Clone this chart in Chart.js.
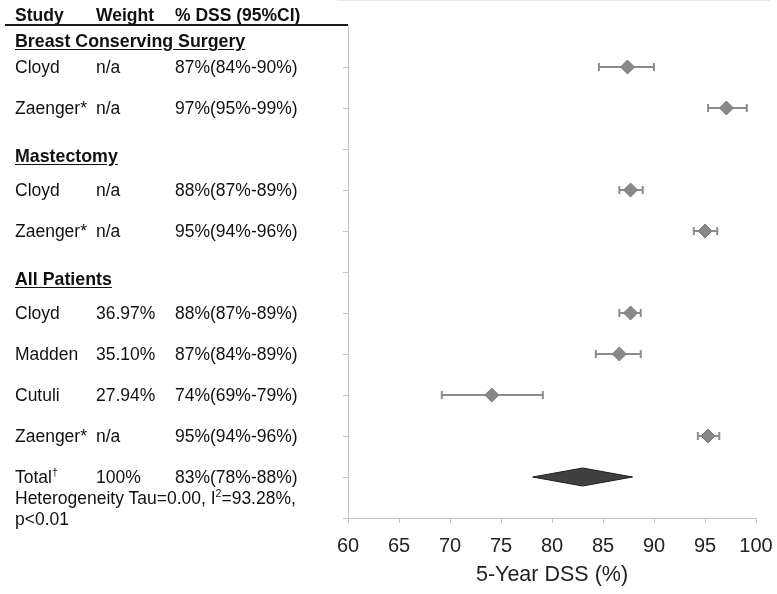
<!DOCTYPE html>
<html>
<head>
<meta charset="utf-8">
<script src="https://cdn.jsdelivr.net/npm/chart.js@4.4.1/dist/chart.umd.min.js"></script>
<style>
body { margin: 0; background: #fff; }
#wrap { position: relative; width: 777px; height: 594px; font-family: "Liberation Sans", Arial, sans-serif; color: #111; overflow: hidden; }
#wrap canvas { position: absolute; left: 0; top: 0; }
.cell { position: absolute; font-size: 17.5px; line-height: 20px; white-space: nowrap; transform: translateY(-50%); }
.head { font-weight: bold; font-size: 17.5px; }
.sec { font-weight: bold; font-size: 17.8px; text-decoration: underline; text-underline-offset: 2px; }
.cell sup { font-size: 10.5px; vertical-align: 7px; line-height: 0; }
#rule { position: absolute; left: 5px; top: 24px; width: 343px; height: 2px; background: #1a1a1a; }
#topedge { position: absolute; left: 337px; top: 0; width: 433px; height: 1px; background: #e6e6e6; }
</style>
</head>
<body>
<div id="wrap">
  <canvas id="forest" width="777" height="594"></canvas>
  <div id="topedge"></div>
  <div id="rule"></div>
  <div id="table"></div>
</div>
<script>
// rows on the y scale (0 = top, 12 = x axis)
const rowIdx = [1, 2, 4, 5, 7, 8, 9, 10];
const studies = ['Cloyd', 'Zaenger*', 'Cloyd', 'Zaenger*', 'Cloyd', 'Madden', 'Cutuli', 'Zaenger*'];
const weights = ['n/a', 'n/a', 'n/a', 'n/a', '36.97%', '35.10%', '27.94%', 'n/a'];
const dssLabels = ['87%(84%-90%)', '97%(95%-99%)', '88%(87%-89%)', '95%(94%-96%)',
                   '88%(87%-89%)', '87%(84%-89%)', '74%(69%-79%)', '95%(94%-96%)'];
const estimates = [87.4, 97.1, 87.7, 95.0, 87.7, 86.6, 74.1, 95.3];
const lowerCI   = [84.6, 95.3, 86.6, 93.9, 86.6, 84.3, 69.2, 94.3];
const upperCI   = [90.0, 99.1, 88.9, 96.2, 88.7, 88.7, 79.1, 96.4];

const sections = ['Breast Conserving Surgery', 'Mastectomy', 'All Patients'];
const sectionIdx = [0, 3, 6];

const totalRow = 11;
const totalCI = [78.1, 83.0, 87.9]; // lower, estimate, upper
const totalWeight = '100%';
const totalLabel = '83%(78%-88%)';

const xTicks = [60, 65, 70, 75, 80, 85, 90, 95, 100];

const FONT = '"Liberation Sans", Arial, sans-serif';

// whiskers and the pooled diamond, drawn through the chart scales
const ciPlugin = {
    id: 'ci',
    beforeDatasetsDraw(chart) {
        const { ctx, scales: { x, y } } = chart;
        ctx.save();
        ctx.strokeStyle = '#8c8c8c';
        ctx.lineWidth = 2;
        rowIdx.forEach((r, i) => {
            const py = y.getPixelForValue(r);
            const x0 = x.getPixelForValue(lowerCI[i]);
            const x1 = x.getPixelForValue(upperCI[i]);
            ctx.beginPath();
            ctx.moveTo(x0, py); ctx.lineTo(x1, py);
            ctx.moveTo(x0, py - 4); ctx.lineTo(x0, py + 4);
            ctx.moveTo(x1, py - 4); ctx.lineTo(x1, py + 4);
            ctx.stroke();
        });

        const ty = y.getPixelForValue(totalRow);
        const [lo, est, hi] = totalCI.map(v => x.getPixelForValue(v));
        ctx.beginPath();
        ctx.moveTo(lo, ty);
        ctx.lineTo(est, ty - 9);
        ctx.lineTo(hi, ty);
        ctx.lineTo(est, ty + 9);
        ctx.closePath();
        ctx.fillStyle = '#404040';
        ctx.fill();
        ctx.strokeStyle = '#1e1e1e';
        ctx.lineWidth = 1;
        ctx.stroke();
        ctx.restore();
    }
};

const chart = new Chart(document.getElementById('forest'), {
    type: 'scatter',
    data: {
        datasets: [{
            data: rowIdx.map((r, i) => ({ x: estimates[i], y: r })),
            pointStyle: 'rectRot',
            radius: 7,
            backgroundColor: '#888888',
            borderColor: '#7c7c7c',
            borderWidth: 1
        }]
    },
    options: {
        responsive: false,
        animation: false,
        events: [],
        layout: { padding: { top: 26, right: 21, left: 0, bottom: 0 } },
        plugins: { legend: { display: false }, tooltip: { enabled: false } },
        scales: {
            x: {
                type: 'linear',
                min: 60,
                max: 100,
                afterBuildTicks: s => { s.ticks = xTicks.map(v => ({ value: v })); },
                afterFit: s => { s.height = 76; s.paddingRight = 0; s.paddingLeft = 0; },
                ticks: { font: { family: FONT, size: 20 }, color: '#222', padding: 11 },
                grid: { drawOnChartArea: false, drawTicks: true, tickLength: 5, color: '#c4c4c4' },
                border: { color: '#c4c4c4', width: 1 },
                title: {
                    display: true,
                    text: '5-Year DSS (%)',
                    font: { family: FONT, size: 21.5 },
                    color: '#222',
                    padding: { top: 0, bottom: 6 }
                }
            },
            y: {
                type: 'linear',
                min: 0,
                max: 12,
                reverse: true,
                afterFit: s => { s.width = 348; },
                ticks: { stepSize: 1, display: false },
                grid: {
                    drawOnChartArea: false,
                    drawTicks: true,
                    tickLength: 5,
                    color: c => (c.tick && c.tick.value === 0) ? 'rgba(0,0,0,0)' : '#c4c4c4'
                },
                border: { color: '#c4c4c4', width: 1 }
            }
        }
    },
    plugins: [ciPlugin]
});

// left-hand table, rows placed on the chart's y scale
function buildTable(chart) {
    const y = chart.scales.y;
    const table = document.getElementById('table');
    const cols = [15, 96, 175];
    const add = (text, left, top, cls) => {
        const d = document.createElement('div');
        d.className = 'cell' + (cls ? ' ' + cls : '');
        d.style.left = left + 'px';
        d.style.top = top + 'px';
        d.innerHTML = text;
        table.appendChild(d);
    };

    ['Study', 'Weight', '% DSS (95%CI)'].forEach((t, i) => add(t, cols[i], 15, 'head'));

    sections.forEach((s, i) => {
        const top = y.getPixelForValue(sectionIdx[i]) + (i === 0 ? 15 : 7);
        add(s, cols[0], top, 'sec');
    });

    rowIdx.forEach((r, i) => {
        const top = y.getPixelForValue(r);
        add(studies[i], cols[0], top);
        add(weights[i], cols[1], top);
        add(dssLabels[i], cols[2], top);
    });

    const tt = y.getPixelForValue(totalRow);
    add('Total<sup>†</sup>', cols[0], tt);
    add(totalWeight, cols[1], tt);
    add(totalLabel, cols[2], tt);
    add('Heterogeneity Tau=0.00, I<sup>2</sup>=93.28%,', cols[0], tt + 21);
    add('p&lt;0.01', cols[0], tt + 42);
}

buildTable(chart);
</script>
</body>
</html>
